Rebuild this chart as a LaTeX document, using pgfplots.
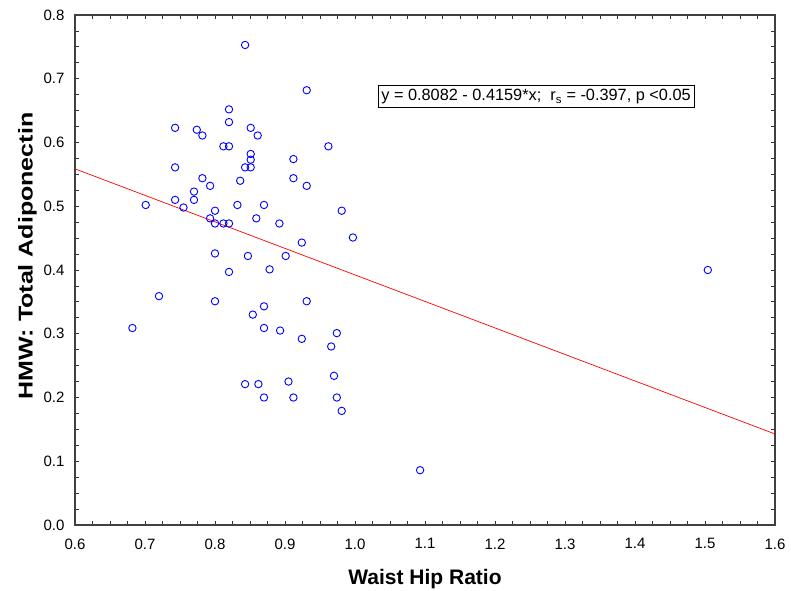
\documentclass[border=0pt]{standalone}
\usepackage{pgfplots}
\pgfplotsset{compat=1.18}
\usepackage{fontspec}
\setmainfont{Liberation Sans}
\newfontfamily\ylabfont[FakeStretch=1.25]{Liberation Sans}

\pgfplotstableread{
x y
0.843 0.753
0.931 0.682
0.820 0.652
0.820 0.632
0.743 0.623
0.774 0.620
0.851 0.623
0.782 0.611
0.861 0.611
0.812 0.594
0.820 0.594
0.962 0.594
0.851 0.582
0.851 0.573
0.912 0.574
0.843 0.561
0.851 0.561
0.743 0.561
0.782 0.544
0.912 0.544
0.836 0.540
0.793 0.532
0.931 0.532
0.770 0.523
0.770 0.510
0.743 0.510
0.701 0.502
0.832 0.502
0.870 0.502
0.755 0.498
0.800 0.493
0.981 0.493
0.859 0.481
0.793 0.481
0.800 0.473
0.812 0.473
0.820 0.473
0.892 0.473
0.997 0.451
0.924 0.443
0.800 0.426
0.847 0.422
0.901 0.422
0.820 0.397
0.878 0.401
1.504 0.400
0.720 0.359
0.800 0.351
0.931 0.351
0.870 0.343
0.854 0.330
0.682 0.309
0.870 0.309
0.893 0.305
0.974 0.301
0.924 0.292
0.966 0.280
0.970 0.234
0.905 0.225
0.843 0.221
0.862 0.221
0.870 0.200
0.912 0.200
0.974 0.200
0.981 0.179
1.093 0.086
}\whr

\begin{document}
\begin{tikzpicture}
\useasboundingbox (-75pt,-65pt) rectangle (716pt,525pt);
\begin{axis}[
  scale only axis,
  width=700pt, height=510pt,
  xmin=0.6, xmax=1.6, ymin=0, ymax=0.8,
  xtick={0.6,0.7,...,1.6}, ytick={0,0.1,...,0.8},
  minor tick num=3,
  tick align=inside,
  major tick length=4pt, minor tick length=4pt,
  tick style={black!80, line width=0.8pt},
  axis line style={black!75, line width=1.2pt},
  /pgf/number format/.cd, fixed, fixed zerofill, precision=1, assume math mode=true,
  /pgfplots/.cd,
  ticklabel style={font=\fontsize{15}{17}\selectfont},
  xticklabel style={yshift=-10pt},
  yticklabel style={xshift=-7pt},
  xlabel={\textbf{Waist Hip Ratio}},
  ylabel={\ylabfont\bfseries HMW: Total Adiponectin},
  xlabel style={font=\fontsize{21}{24}\selectfont, yshift=-13pt},
  ylabel style={font=\fontsize{20}{24}\selectfont, yshift=0pt, xshift=14pt},
  clip=false,
]
\addplot[only marks, mark=o, mark size=3.7pt, mark options={blue, line width=0.9pt}] table {\whr};
% fitted line y = 0.8082 - 0.4159*x over the x range
\addplot[red, line width=0.7pt] coordinates {(0.6,0.55866) (1.6,0.14276)};
\node[draw=black, line width=0.6pt, fill=white, inner sep=3.5pt,
      font=\fontsize{16.3}{18}\selectfont]
  at (axis cs:1.2586,0.672)
  {y = 0.8082 - 0.4159*x;\ \ r\textsubscript{s} = -0.397, p <0.05};
\end{axis}
\end{tikzpicture}
\end{document}
